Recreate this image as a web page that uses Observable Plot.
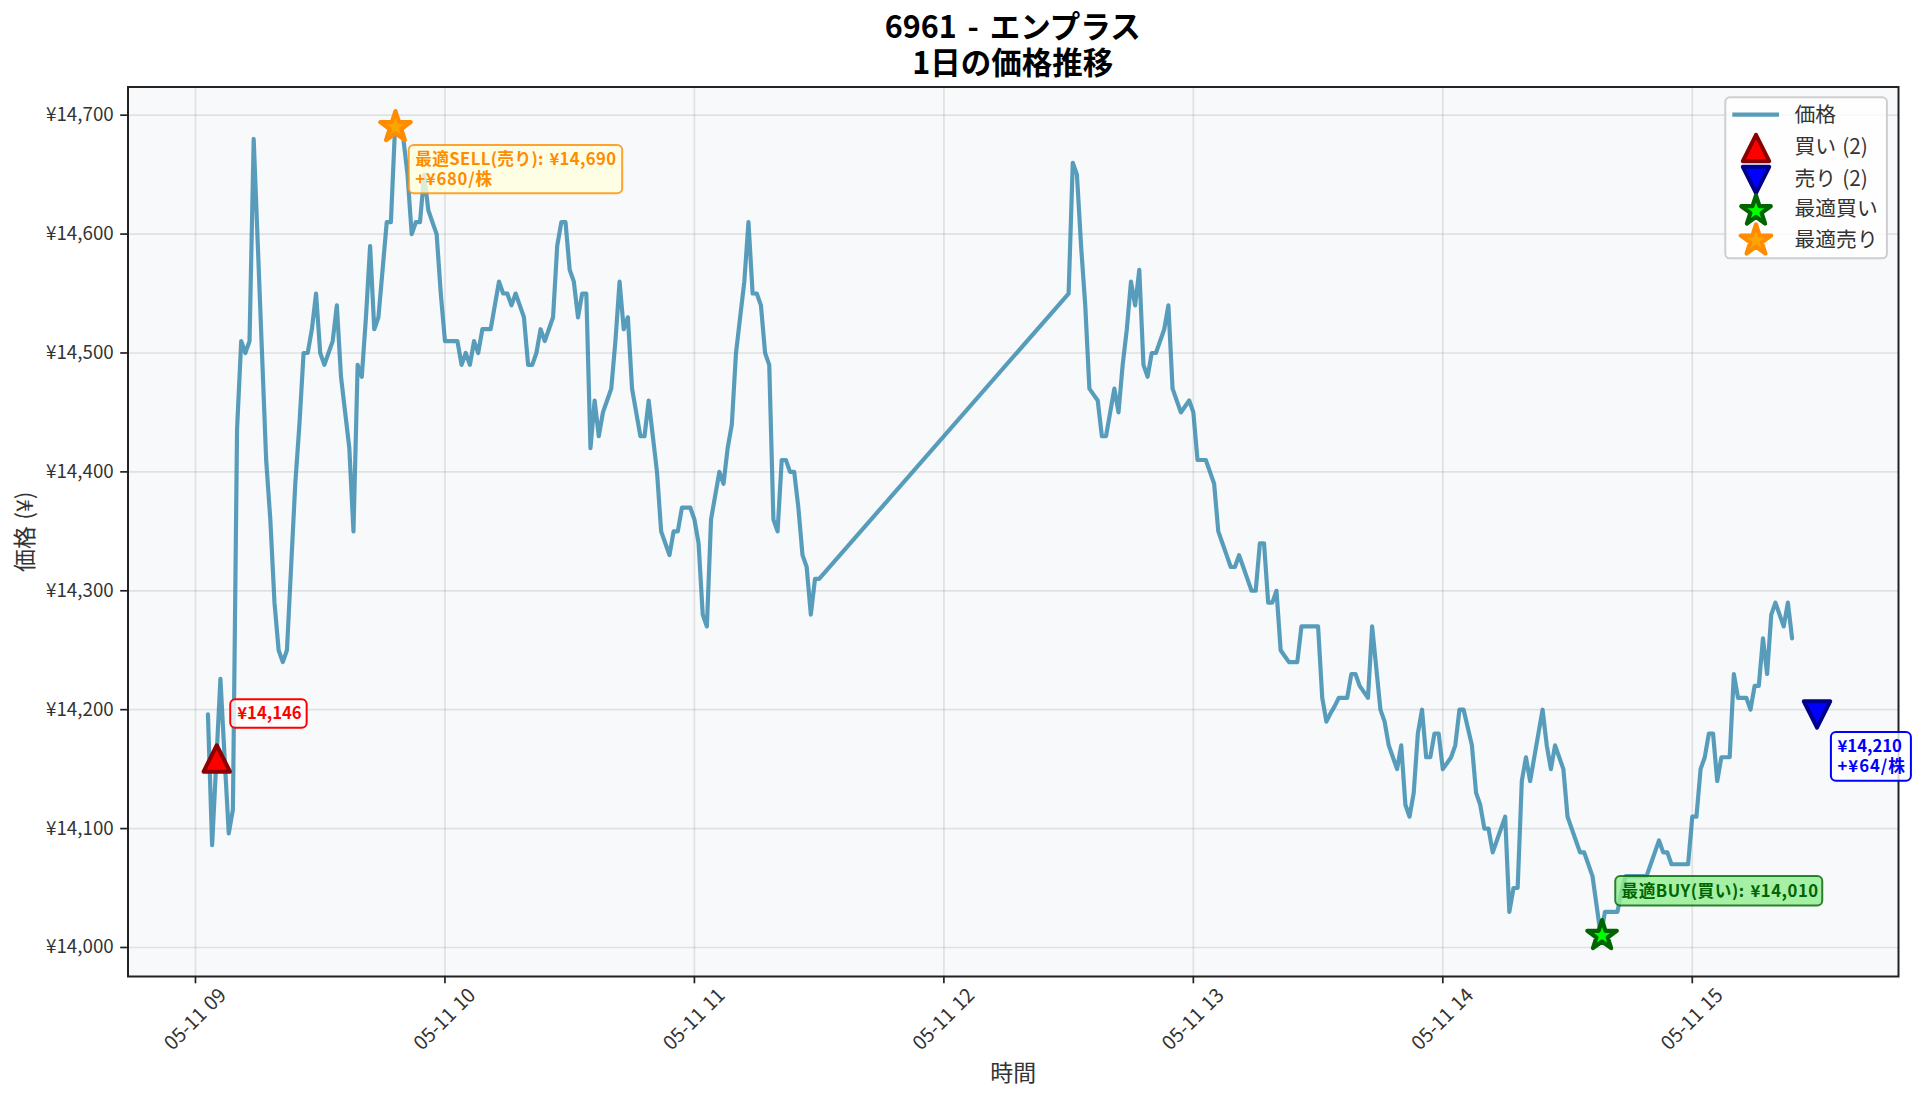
<!DOCTYPE html>
<html lang="ja">
<head>
<meta charset="utf-8">
<title>6961 - エンプラス</title>
<script src="https://cdn.jsdelivr.net/npm/d3@7"></script>
<script src="https://cdn.jsdelivr.net/npm/@observablehq/plot@0.6"></script>
<style>
html,body{margin:0;padding:0;background:#fff;overflow:hidden;width:1920px;height:1101px}
#title{height:80px;box-sizing:border-box;padding-top:6.5px;text-align:center;width:2025.5px;font:700 30.5px/36.5px "Noto Sans CJK JP",sans-serif;color:#000;word-spacing:.13em}
svg{display:block}
</style>
</head>
<body>
<div id="title">6961 - エンプラス<br>1日の価格推移</div>
<div id="chart"></div>
<script>
const titleLines = ["6961 - エンプラス", "1日の価格推移"];
const yLabel = "価格 (¥)";
const xLabel = "時間";
const hourTicks = [9, 10, 11, 12, 13, 14, 15];
const priceTicks = [14000, 14100, 14200, 14300, 14400, 14500, 14600, 14700];

// one value per minute, from 09:03 to 11:30
const morningStartMinute = 3;
const morningPrices = [
  14196,14086,14156,14226,14160,14096,14116,14436,14510,14500,14510,14680,14590,14500,14410,14360,14290,14250,14240,14250,
  14320,14390,14440,14500,14500,14520,14550,14500,14490,14500,14510,14540,14480,14450,14420,14350,14490,14480,14530,14590,
  14520,14530,14570,14610,14610,14690,14690,14680,14650,14600,14610,14610,14650,14620,14610,14600,14550,14510,14510,14510,
  14510,14490,14500,14490,14510,14500,14520,14520,14520,14540,14560,14550,14550,14540,14550,14540,14530,14490,14490,14500,
  14520,14510,14520,14530,14590,14610,14610,14570,14560,14530,14550,14550,14420,14460,14430,14450,14460,14470,14510,14560,
  14520,14530,14470,14450,14430,14430,14460,14430,14400,14350,14340,14330,14350,14350,14370,14370,14370,14360,14340,14280,
  14270,14360,14380,14400,14390,14420,14440,14500,14530,14560,14610,14550,14550,14540,14500,14490,14360,14350,14410,14410,
  14400,14400,14370,14330,14320,14280,14310,14310
];
// one value per minute, from 12:30 to 15:24
const afternoonStartMinute = 210;
const afternoonPrices = [
  14550,14660,14650,14590,14540,14470,14465,14460,14430,14430,14450,14470,14450,14490,14520,14560,14540,14570,14490,14480,
  14500,14500,14510,14520,14540,14470,14460,14450,14455,14460,14450,14410,14410,14410,14400,14390,14350,14340,14330,14320,
  14320,14330,14320,14310,14300,14300,14340,14340,14290,14290,14300,14250,14245,14240,14240,14240,14270,14270,14270,14270,
  14270,14210,14190,14197,14203,14210,14210,14210,14230,14230,14220,14215,14210,14270,14235,14200,14190,14170,14160,14150,
  14170,14120,14110,14130,14180,14200,14160,14160,14180,14180,14150,14155,14160,14170,14200,14200,14185,14170,14130,14120,
  14100,14100,14080,14090,14100,14110,14030,14050,14050,14140,14160,14140,14160,14180,14200,14170,14150,14170,14160,14150,
  14110,14100,14090,14080,14080,14070,14060,14035,14010,14030,14030,14030,14030,14048,14060,14060,14060,14060,14060,14060,
  14070,14080,14090,14080,14080,14070,14070,14070,14070,14070,14110,14110,14150,14160,14180,14180,14140,14160,14160,14160,
  14230,14210,14210,14210,14200,14220,14220,14260,14230,14280,14290,14280,14270,14290,14260
];

const buyMinutes = [5.12];
const buyPrices = [14159];
const sellMinutes = [390];
const sellPrices = [14196];
const bestBuyMinutes = [338.3];
const bestBuyPrices = [14010];
const bestSellMinutes = [48.1];
const bestSellPrices = [14690];

const legendLabels = ["価格", "買い (2)", "売り (2)", "最適買い", "最適売り"];
const buyNote = ["¥14,146"];
const sellNote = ["¥14,210", "+¥64/株"];
const bestBuyNote = ["最適BUY(買い): ¥14,010"];
const bestSellNote = ["最適SELL(売り): ¥14,690", "+¥680/株"];

const FONT = "'Noto Sans CJK JP', sans-serif";
const INK = "#333333";
const LINE = "#2E86AB";
const time = m => new Date(Date.UTC(2025, 4, 11, 9, 0) + m * 60000);

const series = [
  ...morningPrices.map((price, i) => ({t: time(morningStartMinute + i), price})),
  ...afternoonPrices.map((price, i) => ({t: time(afternoonStartMinute + i), price}))
];
const points = (ms, ps) => ms.map((m, i) => ({t: time(m), price: ps[i]}));

// matplotlib-shaped marker symbols
const triUp = {draw(c, s) {const r = Math.sqrt(s / Math.PI); c.moveTo(0, -r); c.lineTo(r, r); c.lineTo(-r, r); c.closePath();}};
const triDown = {draw(c, s) {const r = Math.sqrt(s / Math.PI); c.moveTo(0, r); c.lineTo(r, -r); c.lineTo(-r, -r); c.closePath();}};
const star5 = {draw(c, s) {
  const r = Math.sqrt(s / Math.PI), q = r * 0.381966;
  for (let i = 0; i < 10; i++) {
    const a = -Math.PI / 2 + i * Math.PI / 5, d = i % 2 ? q : r;
    const x = d * Math.cos(a), y = d * Math.sin(a);
    if (i) c.lineTo(x, y); else c.moveTo(x, y);
  }
  c.closePath();
}};

const dotStyle = {
  buy: {symbol: triUp, r: 13.2, fill: "#ff0000", stroke: "#8b0000", strokeWidth: 4},
  sell: {symbol: triDown, r: 13.2, fill: "#0000ff", stroke: "#00008b", strokeWidth: 4},
  bestBuy: {symbol: star5, r: 15.5, fill: "#00ff00", stroke: "#006400", strokeWidth: 4.2},
  bestSell: {symbol: star5, r: 16, fill: "#ffa500", stroke: "#ff8c00", strokeWidth: 4.2}
};
const markerDot = (data, st) => Plot.dot(data, {x: "t", y: "price", strokeLinejoin: "round", ...st});

// note boxes, placed relative to the point they describe
function noteBox(anchor, lines, o) {
  return (index, scales) => {
    const g = d3.create("svg:g");
    const px = scales.x(anchor.t), py = scales.y(anchor.price);
    g.append("rect")
      .attr("x", px + o.dx).attr("y", py + o.dy).attr("width", o.w).attr("height", o.h)
      .attr("rx", 5).attr("ry", 5)
      .attr("fill", o.fill).attr("fill-opacity", 0.8)
      .attr("stroke", o.stroke).attr("stroke-width", 2).attr("stroke-opacity", o.strokeOpacity ?? 1);
    lines.forEach((line, i) => g.append("text")
      .attr("x", px + o.dx + o.pad)
      .attr("y", py + o.dy + o.firstLine + i * 19.8)
      .attr("text-anchor", "start")
      .attr("dominant-baseline", "central")
      .attr("font-family", FONT).attr("font-size", 16.67).attr("font-weight", 700)
      .attr("letter-spacing", (o.spacing || [])[i] || 0)
      .attr("fill", o.color).text(line));
    return g.node();
  };
}

// legend in the upper right of the frame
function legendMark(index, scales, values, dim) {
  const right = dim.width - dim.marginRight, top = dim.marginTop;
  const g = d3.create("svg:g").attr("font-family", FONT);
  g.append("rect")
    .attr("x", right - 172.7).attr("y", top + 10.8).attr("width", 161.6).attr("height", 161)
    .attr("rx", 4.5).attr("fill", "#fff").attr("fill-opacity", 0.8)
    .attr("stroke", "#cfcfcf").attr("stroke-width", 2);
  const rows = [26.5, 58.4, 90.3, 120.5, 151.7];
  g.append("line")
    .attr("x1", right - 165.7).attr("x2", right - 119).attr("y1", top + 28.2).attr("y2", top + 28.2)
    .attr("stroke", LINE).attr("stroke-opacity", 0.8).attr("stroke-width", 4.17);
  [dotStyle.buy, dotStyle.sell, dotStyle.bestBuy, dotStyle.bestSell].forEach((st, i) => {
    const p = d3.path();
    st.symbol.draw(p, st.r * st.r * Math.PI);
    g.append("path").attr("d", p.toString())
      .attr("transform", `translate(${right - 142},${top + [61.5, 93.5, 124.5, 154][i]})`)
      .attr("fill", st.fill).attr("stroke", st.stroke).attr("stroke-width", st.strokeWidth)
      .attr("stroke-linejoin", "round");
  });
  legendLabels.forEach((label, i) => g.append("text")
    .attr("x", right - 103.5).attr("y", top + rows[i])
    .attr("text-anchor", "start")
    .attr("dominant-baseline", "central")
    .attr("font-size", 20.8).attr("fill", "#333").text(label));
  return g.node();
}

const chart = Plot.plot({
  width: 1920,
  height: 1021,
  marginLeft: 127.5,
  marginRight: 22,
  marginTop: 6.5,
  marginBottom: 125,
  style: {fontFamily: FONT, background: "#fff", overflow: "visible", color: INK, wordSpacing: "0.14em"},
  x: {type: "utc", domain: [time(-16.23), time(409.6)]},
  y: {domain: [13975.6, 14723.7]},
  marks: [
    Plot.frame({fill: "#f8f9fa", stroke: null}),
    Plot.gridX(hourTicks.map(h => time((h - 9) * 60)), {stroke: "#808080", strokeOpacity: 0.2, strokeWidth: 1.7}),
    Plot.gridY(priceTicks, {stroke: "#808080", strokeOpacity: 0.2, strokeWidth: 1.7}),
    Plot.line(series, {x: "t", y: "price", stroke: LINE, strokeOpacity: 0.8, strokeWidth: 4.17}),
    markerDot(points(buyMinutes, buyPrices), dotStyle.buy),
    markerDot(points(sellMinutes, sellPrices), dotStyle.sell),
    markerDot(points(bestBuyMinutes, bestBuyPrices), dotStyle.bestBuy),
    markerDot(points(bestSellMinutes, bestSellPrices), dotStyle.bestSell),
    Plot.frame({stroke: "#222", strokeWidth: 2, fill: null}),
    noteBox(points(buyMinutes, buyPrices)[0], buyNote,
      {dx: 14, dy: -58.7, w: 76.4, h: 28.4, pad: 7, firstLine: 13, fill: "#fff", stroke: "#ff0000", color: "#ff0000"}),
    noteBox(points(sellMinutes, sellPrices)[0], sellNote,
      {dx: 14.4, dy: 18, w: 80, h: 48.7, pad: 6.6, firstLine: 12.8, fill: "#fff", stroke: "#0000ff", color: "#0000ff", spacing: [0, 1]}),
    noteBox(points(bestBuyMinutes, bestBuyPrices)[0], bestBuyNote,
      {dx: 13.7, dy: -59, w: 207, h: 29.3, pad: 6.2, firstLine: 13.5, fill: "#90ee90", stroke: "#006400", strokeOpacity: 0.8, color: "#006400", spacing: [0.55]}),
    noteBox(points(bestSellMinutes, bestSellPrices)[0], bestSellNote,
      {dx: 13.7, dy: 18.5, w: 213.5, h: 48.3, pad: 6.6, firstLine: 12.8, fill: "#ffffe0", stroke: "#ff8c00", strokeOpacity: 0.8, color: "#ff8c00", spacing: [0.37, 0.75]}),
    Plot.axisX(hourTicks.map(h => time((h - 9) * 60)), {tickSize: 7.3, strokeWidth: 1.7, stroke: "#222", tickFormat: () => "", label: null}),
    Plot.text(hourTicks, {
      x: h => time((h - 9) * 60),
      text: h => d3.utcFormat("05-11 %H")(time((h - 9) * 60)),
      frameAnchor: "bottom", dy: 43, rotate: -45, textAnchor: "middle", lineAnchor: "middle",
      fontSize: 19.5, fill: INK
    }),
    Plot.axisY(priceTicks, {tickSize: 7.3, tickPadding: 7, strokeWidth: 1.7, stroke: "#222", fontSize: 18.75, fill: INK,
      tickFormat: d => "¥" + d3.format(",")(d), label: null}),
    Plot.text([yLabel], {text: d => d, frameAnchor: "left", dx: -102.5, rotate: -90, textAnchor: "middle", lineAnchor: "middle", fontSize: 22.9, fill: INK}),
    Plot.text([xLabel], {text: d => d, frameAnchor: "bottom", dy: 97, textAnchor: "middle", lineAnchor: "middle", fontSize: 22.9, fill: INK}),
    legendMark
  ]
});
document.getElementById("chart").append(chart);
</script>
</body>
</html>
